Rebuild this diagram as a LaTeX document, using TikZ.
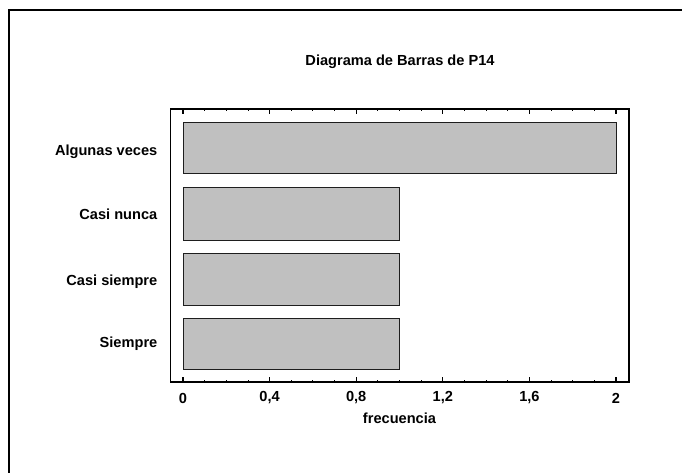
\documentclass[tikz,border=0pt]{standalone}
\usepackage{fontspec}
\setmainfont{Liberation Sans}
\definecolor{barfill}{RGB}{192,192,192}
\definecolor{barline}{RGB}{30,30,30}
\begin{document}
\begin{tikzpicture}[x=1pt,y=-1pt,
  txt/.style={font=\fontsize{14.6}{16}\selectfont\bfseries, inner sep=0pt},
  bar/.style={draw=barline, fill=barfill, line width=1pt},
  frame/.style={draw=black, line width=1.6pt},
  tickmaj/.style={draw=black, line width=1.2pt},
  tickmin/.style={draw=black, line width=0.9pt}]
\useasboundingbox (0,0) rectangle (682,473);
% outer border
\draw[line width=2pt] (8.5,473) -- (8.5,10) -- (682,10);
% title
\node[txt] (title) at (400,62) {Diagrama de Barras de P14};
% bars
\path[bar] (183,123) rectangle (616.5,174);
\path[bar] (183,188) rectangle (399.75,240);
\path[bar] (183,253) rectangle (399.75,305);
\path[bar] (183,318) rectangle (399.75,369);
% frame
\draw[frame] (170.5,109) rectangle (629,382);
% ticks
\foreach \i in {0,...,20}{
  \pgfmathsetmacro{\xx}{183+\i*21.65}
  \pgfmathtruncatemacro{\m}{mod(\i,4)}
  \ifnum\m=0
    \draw[tickmaj] (\xx,382) -- (\xx,377);
    \draw[tickmaj] (\xx,109) -- (\xx,114);
  \else
    \draw[tickmin] (\xx,382) -- (\xx,380);
    \draw[tickmin] (\xx,109) -- (\xx,111);
  \fi
}
% tick labels
\node[txt] (t0) at (183,398) {0};
\node[txt] (t1) at (269.6,398) {0,4};
\node[txt] (t2) at (356.2,398) {0,8};
\node[txt] (t3) at (442.8,398) {1,2};
\node[txt] (t4) at (529.4,398) {1,6};
\node[txt] (t5) at (616,398) {2};
\node[txt] (xl) at (399.5,418) {frecuencia};
% category labels
\node[txt, anchor=east] (c1) at (157.5,152) {Algunas veces};
\node[txt, anchor=east] (c2) at (157.5,214) {Casi nunca};
\node[txt, anchor=east] (c3) at (157.5,282) {Casi siempre};
\node[txt, anchor=east] (c4) at (157.5,344) {Siempre};
\end{tikzpicture}
\end{document}
